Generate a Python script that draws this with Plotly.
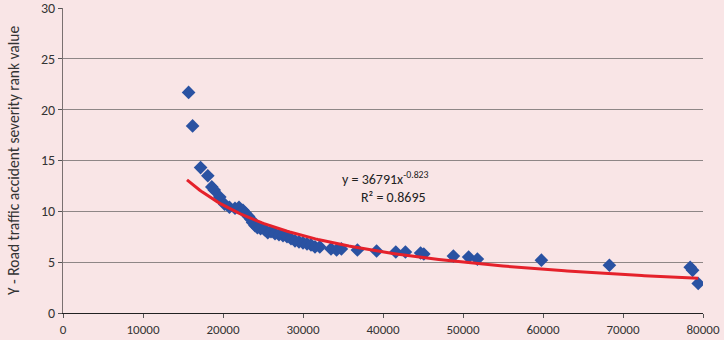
import numpy as np
import plotly.graph_objects as go

x_vals = [15700, 16200, 17200, 18100, 18600, 18900, 19600, 20200, 20800, 21500,
          22000, 22500, 22800, 23200, 23500, 23700, 24000, 24300, 24700, 25200,
          25600, 26000, 26500, 27000, 27500, 28000, 28500, 29000, 29500, 30000,
          30500, 31000, 31500, 32100, 33500, 34200, 34800, 36800, 39200, 41600,
          42800, 44700, 45100, 48800, 50700, 51800, 59800, 68300, 78400, 78700, 79400]
y_vals = [21.7, 18.4, 14.3, 13.5, 12.4, 12.1, 11.4, 10.7, 10.4, 10.3,
          10.4, 10.1, 9.8, 9.5, 9.2, 8.9, 8.6, 8.4, 8.3, 8.2,
          7.9, 8.0, 7.8, 7.7, 7.6, 7.5, 7.3, 7.1, 7.0, 6.9,
          6.8, 6.7, 6.5, 6.5, 6.3, 6.2, 6.3, 6.2, 6.1, 6.0,
          6.0, 5.9, 5.8, 5.6, 5.5, 5.3, 5.2, 4.7, 4.5, 4.2, 2.9]

# Trendline published on the chart: y = a * x^b
fit_a = 36791
fit_b = -0.823
fit_r2 = 0.8695

x_ticks = [0, 10000, 20000, 30000, 40000, 50000, 60000, 70000, 80000]
y_ticks = [0, 5, 10, 15, 20, 25, 30]

trend_x = np.linspace(min(x_vals) - 200, max(x_vals), 200)
trend_y = fit_a * trend_x ** fit_b

font = "Carlito, Lato, 'Liberation Sans', sans-serif"
bg = "#F9E5E6"

fig = go.Figure()
fig.add_trace(go.Scatter(x=x_vals, y=y_vals, mode="markers",
                         marker=dict(symbol="diamond", size=10.5, color="#2A52A2"),
                         showlegend=False))
fig.add_trace(go.Scatter(x=trend_x, y=trend_y, mode="lines",
                         line=dict(color="#E5212B", width=3),
                         showlegend=False))

fig.add_annotation(x=40300, y=13.2, xref="x", yref="y",
                   text=f"y = {fit_a}x<sup>{fit_b}</sup>", showarrow=False,
                   font=dict(family=font, size=14, color="#222"))
fig.add_annotation(x=41300, y=11.4, xref="x", yref="y",
                   text=f"R² = {fit_r2}", showarrow=False,
                   font=dict(family=font, size=14, color="#222"))

fig.update_layout(
    width=724, height=340,
    margin=dict(l=63, r=21, t=8, b=27, autoexpand=False),
    paper_bgcolor=bg, plot_bgcolor=bg,
    font=dict(family=font, size=13, color="#333"),
)
fig.update_xaxes(range=[0, 80000], tickvals=x_ticks, ticktext=[str(v) for v in x_ticks],
                 showgrid=False, zeroline=False, showline=True, linecolor="#222",
                 linewidth=1, ticks="outside", ticklen=4, tickcolor="#555",
                 tickfont=dict(size=13), automargin=False, ticklabeloverflow="allow")
fig.update_yaxes(range=[0, 30], tickvals=y_ticks, showgrid=True, gridcolor="#8E8686",
                 gridwidth=1, zeroline=False, showline=True, linecolor="#7A7070",
                 linewidth=1, ticks="outside", ticklen=4, tickcolor="#555",
                 tickfont=dict(size=14), automargin=False, ticklabeloverflow="allow",
                 title=dict(text="Y - Road traffic accident severity rank value",
                            font=dict(size=15.5), standoff=17))

fig.write_html("out.html", config={"displayModeBar": False},
               post_script="document.body.style.margin='0';document.body.style.background='%s';" % bg)
